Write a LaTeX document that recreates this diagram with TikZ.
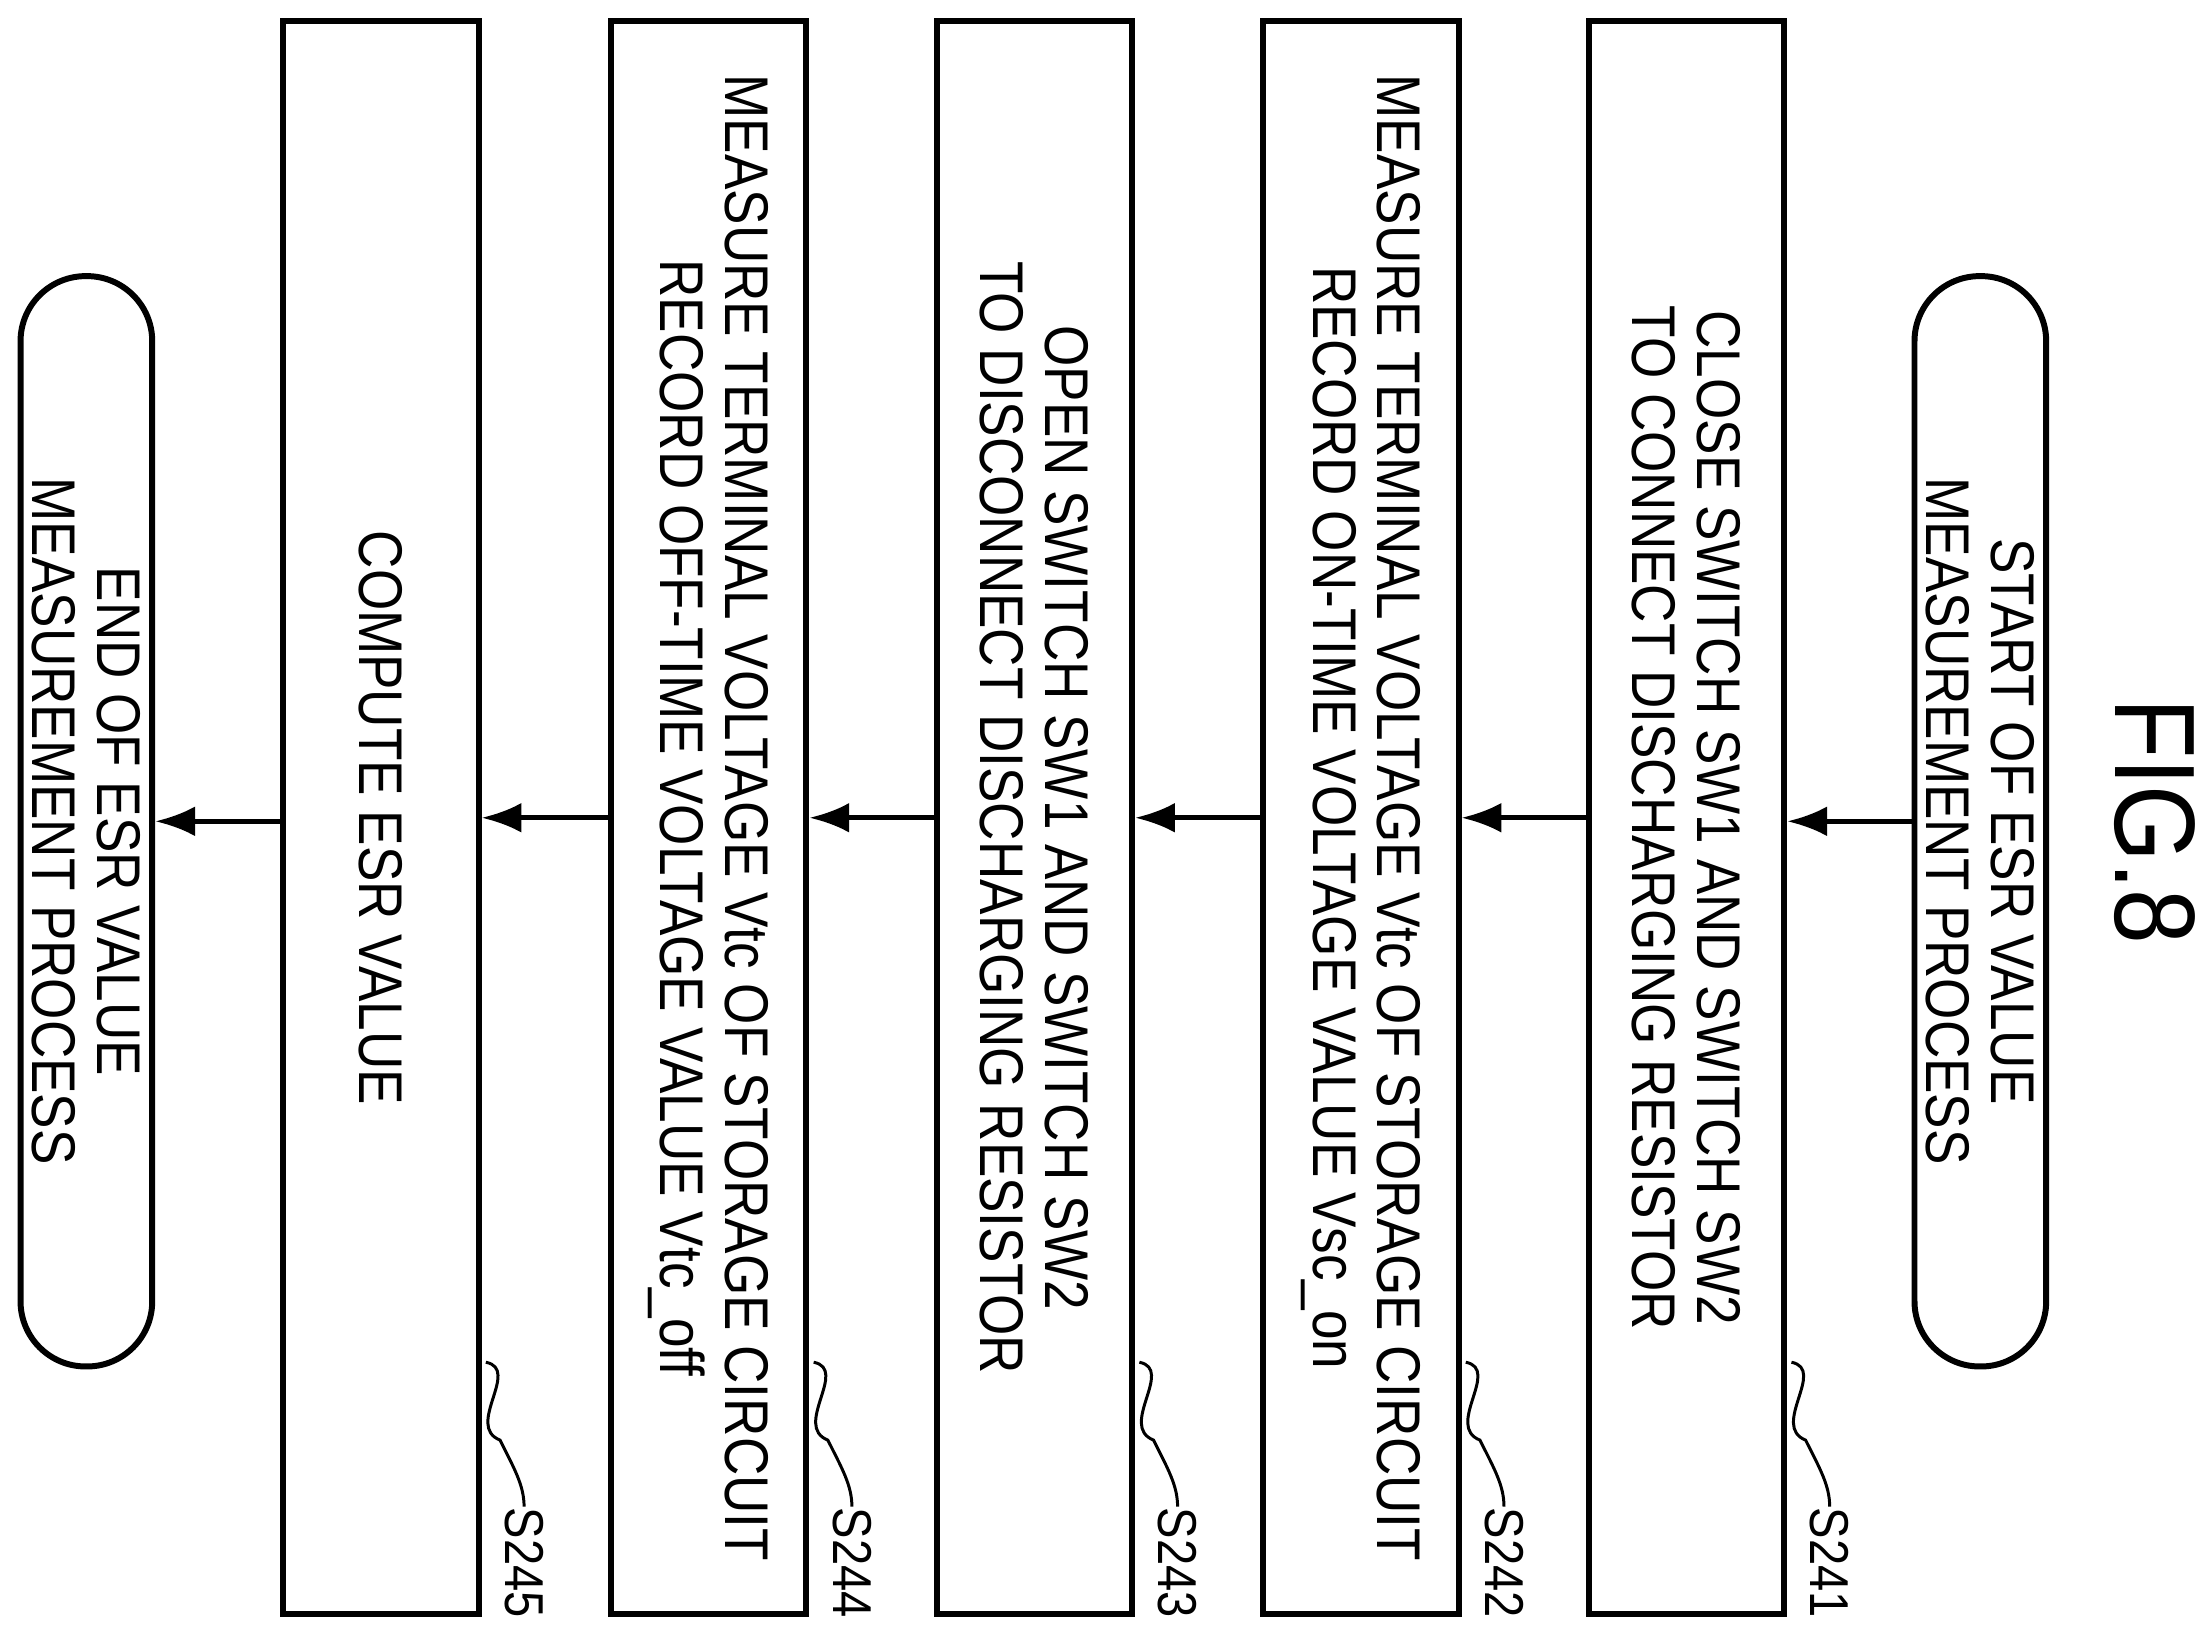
\documentclass[tikz,border=0pt]{standalone}
\usetikzlibrary{arrows.meta}
\usepackage{fontspec}
\setmainfont{Liberation Sans}[FakeStretch=0.86]
\begin{document}
\begin{tikzpicture}[
  box/.style={draw,line width=1.2pt,rotate=-90,minimum width=11.25cm,minimum height=1.38cm,align=center,inner sep=0pt,font=\fontsize{12.4}{13}\selectfont},
  term/.style={draw,line width=1.2pt,rotate=-90,minimum width=7.7cm,minimum height=0.93cm,rounded corners=0.46cm,align=center,inner sep=0pt,font=\fontsize{12.4}{13}\selectfont},
  lab/.style={rotate=-90,font=\fontsize{11}{13}\selectfont,inner sep=0pt},
  arr/.style={-{Latex[length=8pt,width=6pt]},line width=1pt},
  sq/.style={line width=0.6pt}]
\useasboundingbox (0,0) rectangle (15.6,11.54);
\node[rotate=-90,font=\fontsize{23}{23}\selectfont] (fig) at (15.22,5.74) {FIG.8};
\node[term] (st) at (13.985,5.74) {START OF ESR VALUE\\MEASUREMENT PROCESS};
\node[box] (b1) at (11.91,5.765) {CLOSE SWITCH SW1 AND SWITCH SW2\\TO CONNECT DISCHARGING RESISTOR};
\node[box] (b2) at (9.61,5.765) {MEASURE TERMINAL VOLTAGE Vtc OF STORAGE CIRCUIT\\RECORD ON-TIME VOLTAGE VALUE Vsc\_on};
\node[box] (b3) at (7.305,5.765) {OPEN SWITCH SW1 AND SWITCH SW2\\TO DISCONNECT DISCHARGING RESISTOR};
\node[box] (b4) at (5.005,5.765) {MEASURE TERMINAL VOLTAGE Vtc OF STORAGE CIRCUIT\\RECORD OFF-TIME VOLTAGE VALUE Vtc\_off};
\node[box] (b5) at (2.69,5.765) {COMPUTE ESR VALUE};
\node[term] (en) at (0.61,5.74) {END OF ESR VALUE\\MEASUREMENT PROCESS};
\draw[arr] (st.south) -- (st.south -| b1.north);
\draw[arr] (b1.south) -- (b2.north);
\draw[arr] (b2.south) -- (b3.north);
\draw[arr] (b3.south) -- (b4.north);
\draw[arr] (b4.south) -- (b5.north);
\draw[arr] (b5.south |- en.north) -- (en.north);
\foreach \b/\t in {b1/S241,b2/S242,b3/S243,b4/S244,b5/S245}{
  \coordinate (\b s) at ([xshift=0.03cm]\b.north east |- 0,1.92);
  \node[lab,anchor=west] (\b l) at ([xshift=0.3cm]\b.north east |- 0,0.9) {\t};
  \draw[sq] (\b s) .. controls ++(0.25,-0.05) and ++(-0.25,0.1) .. ++(0.1,-0.55) .. controls ++(0.1,-0.2) and ++(0,0.15) .. (\b l.west);
}
\end{tikzpicture}
\end{document}
